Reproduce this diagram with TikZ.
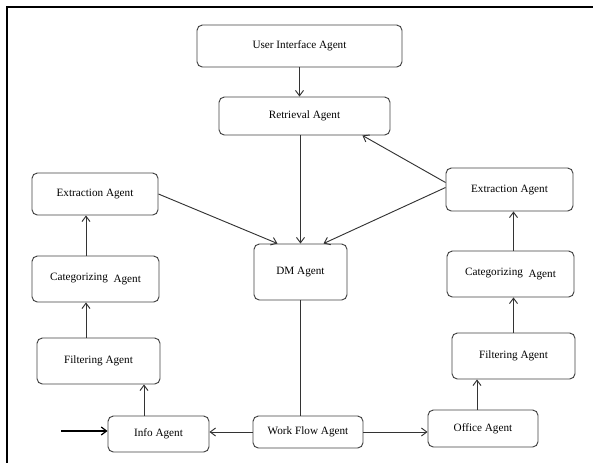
\documentclass[tikz,border=0pt]{standalone}
\usepackage{fontspec}
\setmainfont{Liberation Serif}
\usepackage{tikz}
\usetikzlibrary{arrows.meta, calc}
\tikzset{
  agentblock/.style={
    rectangle, draw=black!75, line width=0.7pt, rounded corners=4pt,
    inner sep=0pt, align=center, font=\fontsize{8.4pt}{10pt}\selectfont
  },
  agentarrow/.style={
    draw=black!80, line width=0.7pt, -{Straight Barb[length=4pt, width=6pt]}
  },
  plainlink/.style={
    draw=black!80, line width=0.7pt
  },
  inputarrow/.style={
    draw=black, line width=1.3pt, -{Straight Barb[length=4pt, width=6pt, line width=0.9pt]}
  },
  frameline/.style={
    draw=black, line width=1.5pt
  }
}

\begin{document}
\begin{tikzpicture}[x=0.75pt, y=-0.75pt]
  \useasboundingbox (0,0) rectangle (593,462);
  \draw[frameline] (600,7) -- (7,7) -- (7,470);

  \node[agentblock, minimum width=153.75pt, minimum height=31.5pt] (ui) at (299.5,46) {User Interface Agent};
  \node[agentblock, minimum width=128.25pt, minimum height=28.5pt] (retr) at (304.5,116) {Retrieval Agent};
  \node[agentblock, minimum width=69.75pt, minimum height=42pt] (dm) at (300.5,272) {DM Agent};

  \node[agentblock, minimum width=94.5pt, minimum height=31.5pt] (lext) at (95,194) {Extraction Agent};
  \node[agentblock, minimum width=95.25pt, minimum height=34.5pt] (lcat) at (95.5,279) {Categorizing\ \ \raisebox{-1.2pt}{Agent}};
  \node[agentblock, minimum width=92.25pt, minimum height=34.5pt] (lfilt) at (98.5,361) {Filtering Agent};
  \node[agentblock, minimum width=75.75pt, minimum height=27pt] (info) at (158.5,434) {Info Agent};

  \node[agentblock, minimum width=82.5pt, minimum height=24pt] (wf) at (308,432) {Work Flow Agent};
  \node[agentblock, minimum width=82.5pt, minimum height=27.75pt] (office) at (483,428.5) {Office Agent};

  \node[agentblock, minimum width=92.25pt, minimum height=34.5pt] (rfilt) at (513.5,356) {Filtering Agent};
  \node[agentblock, minimum width=95.25pt, minimum height=34.5pt] (rcat) at (510.5,274) {Categorizing\ \ \raisebox{-1.2pt}{Agent}};
  \node[agentblock, minimum width=95.25pt, minimum height=32.25pt] (rext) at (509.5,189.5) {Extraction Agent};

  \coordinate (infeed) at (61,431);

  \draw[agentarrow] (ui.south) -- (ui.south |- retr.north);
  \draw[agentarrow] (retr.south -| dm.north) -- (dm.north);
  \draw[agentarrow] (lext.east) -- ($(dm.north)+(-23,0)$);
  \draw[agentarrow] ($(rext.west)+(0,-2)$) -- ($(dm.north)+(23,0)$);
  \draw[agentarrow] ($(rext.west)+(0,-7)$) -- ($(retr.south east)+(-28,0)$);

  \draw[agentarrow] ($(info.north)+(-14.5,0)$) -- ($(info.north |- lfilt.south)+(-14.5,0)$);
  \draw[agentarrow] ($(lfilt.north)+(-12.5,0)$) -- ($(lfilt.north |- lcat.south)+(-12.5,0)$);
  \draw[agentarrow] ($(lcat.north)+(-9.5,0)$) -- ($(lcat.north |- lext.south)+(-9.5,0)$);
  \draw[inputarrow] (infeed) -- (infeed -| info.west);

  \draw[plainlink] (dm.south) -- (dm.south |- wf.north);
  \draw[agentarrow] (wf.west) -- (wf.west -| info.east);
  \draw[agentarrow] (wf.east) -- (wf.east -| office.west);

  \draw[agentarrow] ($(office.north)+(-6,0)$) -- ($(office.north |- rfilt.south)+(-6,0)$);
  \draw[agentarrow] (rfilt.north) -- (rfilt.north |- rcat.south);
  \draw[agentarrow] (rcat.north -| rfilt.north) -- (rfilt.north |- rext.south);
\end{tikzpicture}
\end{document}
